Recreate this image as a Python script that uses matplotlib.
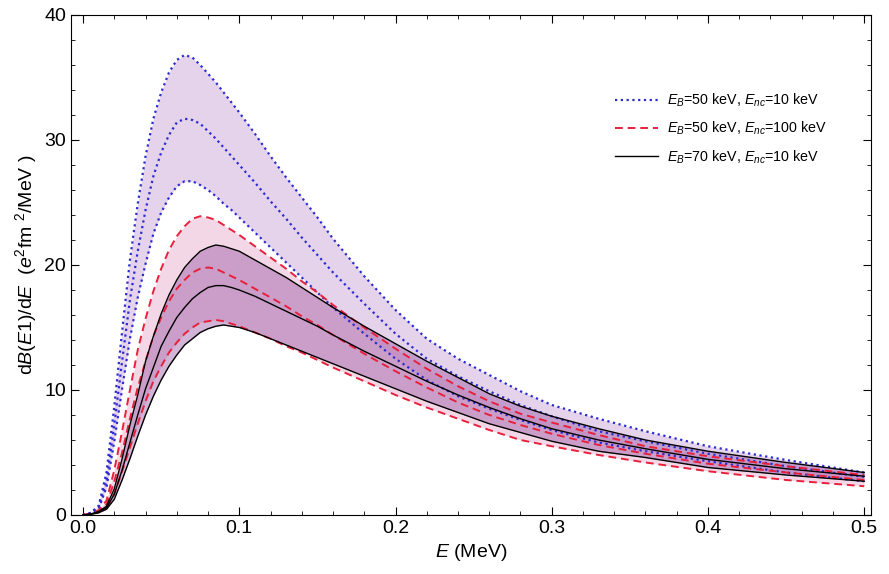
import matplotlib
matplotlib.use("Agg")
import matplotlib.pyplot as plt
from matplotlib.ticker import MultipleLocator

plt.rcParams['font.family'] = ['Liberation Sans', 'DejaVu Sans']
plt.rcParams['mathtext.fontset'] = 'custom'
plt.rcParams['mathtext.rm'] = 'Liberation Sans'
plt.rcParams['mathtext.it'] = 'Liberation Sans:italic'

# energy grid (MeV)
energy = [0, .005, .01, .015, .02, .025, .03, .035, .04, .045, .05, .055, .06, .065,
          .07, .075, .08, .085, .09, .095, .1, .11, .12, .13, .14, .15, .16, .18, .2,
          .22, .24, .26, .28, .3, .33, .36, .4, .45, .5]

# E_B=50 keV, E_nc=10 keV : lower / central / upper
blue_lo = [0, 0.13, 0.51, 2.2, 5.9, 10.1, 14.1, 17.4, 20.1, 22.5, 24.2, 25.4, 26.3, 26.7,
           26.7, 26.4, 26.0, 25.5, 24.9, 24.4, 23.8, 22.6, 21.4, 20.2, 19.0, 17.8, 16.6,
           14.5, 12.5, 10.8, 9.5, 8.5, 7.6, 6.8, 5.8, 5.1, 4.3, 3.4, 2.7]
blue_mid = [0, 0.16, 0.63, 2.7, 7.2, 12.3, 17.2, 21.1, 24.4, 27.1, 29.0, 30.4, 31.4, 31.7,
            31.6, 31.3, 30.7, 30.1, 29.4, 28.7, 28.0, 26.6, 25.1, 23.7, 22.2, 20.8, 19.4,
            16.9, 14.5, 12.5, 11.1, 9.9, 8.8, 7.9, 6.7, 5.9, 4.9, 3.9, 3.05]
blue_hi = [0, 0.18, 0.74, 3.4, 8.7, 14.7, 20.4, 24.9, 28.7, 31.7, 33.8, 35.4, 36.4, 36.8,
           36.6, 36.0, 35.3, 34.6, 33.8, 33.0, 32.2, 30.5, 28.7, 27.0, 25.4, 23.8, 22.1,
           19.1, 16.4, 14.1, 12.5, 11.2, 9.9, 8.8, 7.7, 6.7, 5.5, 4.4, 3.4]

# E_B=50 keV, E_nc=100 keV
red_lo = [0, 0.06, 0.2, 0.58, 1.7, 3.5, 5.4, 7.3, 9.1, 10.7, 11.9, 13.0, 13.8, 14.5,
          15.0, 15.4, 15.5, 15.6, 15.5, 15.3, 15.1, 14.6, 14.1, 13.5, 13.0, 12.4, 11.8,
          10.7, 9.6, 8.6, 7.7, 6.8, 6.0, 5.5, 4.8, 4.2, 3.5, 2.8, 2.3]
red_mid = [0, 0.08, 0.3, 0.85, 2.7, 5.0, 7.7, 10.2, 12.3, 14.3, 15.8, 17.1, 18.1, 18.8,
           19.4, 19.7, 19.8, 19.7, 19.4, 19.1, 18.8, 18.1, 17.4, 16.7, 15.9, 15.2, 14.4,
           12.9, 11.5, 10.2, 9.0, 8.0, 7.2, 6.5, 5.6, 4.9, 4.1, 3.4, 2.8]
red_hi = [0, 0.10, 0.38, 1.15, 3.6, 6.7, 10.0, 13.2, 15.7, 17.9, 19.7, 21.2, 22.3, 23.1,
          23.7, 23.9, 23.8, 23.6, 23.2, 22.8, 22.4, 21.5, 20.6, 19.7, 18.7, 17.8, 16.8,
          15.0, 13.3, 11.7, 10.3, 9.1, 8.1, 7.4, 6.4, 5.5, 4.7, 3.9, 3.2]

# E_B=70 keV, E_nc=10 keV
black_lo = [0, 0.05, 0.18, 0.46, 1.26, 2.8, 4.5, 6.3, 8.0, 9.5, 10.8, 11.9, 12.8, 13.6,
            14.1, 14.6, 14.9, 15.1, 15.2, 15.1, 15.0, 14.6, 14.1, 13.6, 13.1, 12.6, 12.1,
            11.1, 10.1, 9.1, 8.2, 7.3, 6.6, 5.9, 5.1, 4.6, 3.8, 3.2, 2.7]
black_mid = [0, 0.07, 0.24, 0.57, 1.66, 3.6, 5.8, 8.0, 10.1, 11.8, 13.5, 14.7, 15.8, 16.6,
             17.3, 17.8, 18.2, 18.35, 18.35, 18.2, 18.0, 17.5, 16.9, 16.3, 15.7, 15.1, 14.4,
             13.1, 11.9, 10.7, 9.6, 8.6, 7.7, 6.9, 6.0, 5.3, 4.45, 3.7, 3.1]
black_hi = [0, 0.08, 0.28, 0.7, 2.1, 4.5, 7.2, 9.6, 12.3, 14.3, 16.1, 17.6, 18.8, 19.8,
            20.5, 21.1, 21.4, 21.6, 21.5, 21.3, 21.1, 20.4, 19.7, 19.0, 18.2, 17.4, 16.6,
            15.1, 13.7, 12.3, 11.0, 9.7, 8.7, 7.9, 6.9, 6.0, 5.1, 4.2, 3.4]

labels = [r'$E_B$=50 keV, $E_{nc}$=10 keV',
          r'$E_B$=50 keV, $E_{nc}$=100 keV',
          r'$E_B$=70 keV, $E_{nc}$=10 keV']

fig = plt.figure(figsize=(8.89, 5.74), dpi=100)
ax = fig.add_axes([0.0799, 0.1028, 0.9001, 0.8711])

# bands
ax.fill_between(energy, blue_lo, blue_hi, color='#cca8d8', alpha=0.5, lw=0)
ax.fill_between(energy, red_lo, red_hi, color='#eab0cf', alpha=0.5, lw=0)
ax.fill_between(energy, black_lo, black_hi, color='#9a5aa6', alpha=0.45, lw=0)

# lines
blue_kw = dict(color='#2b2bd0', ls=(0, (1, 1.6)), lw=1.6)
red_kw = dict(color='#e8203c', ls=(0, (4, 2.5)), lw=1.4)
black_kw = dict(color='black', ls='-', lw=1.0)
for ys in (blue_lo, blue_mid, blue_hi):
    ax.plot(energy, ys, **blue_kw)
for ys in (red_lo, red_mid, red_hi):
    ax.plot(energy, ys, **red_kw)
for ys in (black_lo, black_mid, black_hi):
    ax.plot(energy, ys, **black_kw)

handles = [plt.Line2D([], [], **blue_kw), plt.Line2D([], [], **red_kw),
           plt.Line2D([], [], **black_kw)]
ax.legend(handles, labels, loc='upper left', bbox_to_anchor=(0.664, 0.872),
          frameon=False, fontsize=10.3, handlelength=3.0, labelspacing=0.75,
          handletextpad=0.6)

ax.set_xlim(-0.0077, 0.5045)
ax.set_ylim(0, 40)
ax.xaxis.set_major_locator(MultipleLocator(0.1))
ax.xaxis.set_minor_locator(MultipleLocator(0.02))
ax.yaxis.set_major_locator(MultipleLocator(10))
ax.yaxis.set_minor_locator(MultipleLocator(2))
ax.tick_params(which='both', direction='in', top=True, right=True, labelsize=14)
ax.tick_params(which='major', length=6)
ax.tick_params(which='minor', length=3)
ax.xaxis.set_major_formatter(matplotlib.ticker.FormatStrFormatter('%.1f'))

ax.set_xlabel(r'$E$ (MeV)', fontsize=14)
ax.set_ylabel(r'd$B$($E$1)/d$E$  ($e^2$fm $^2$/MeV )', fontsize=14)

fig.savefig('out.png', dpi=100)
